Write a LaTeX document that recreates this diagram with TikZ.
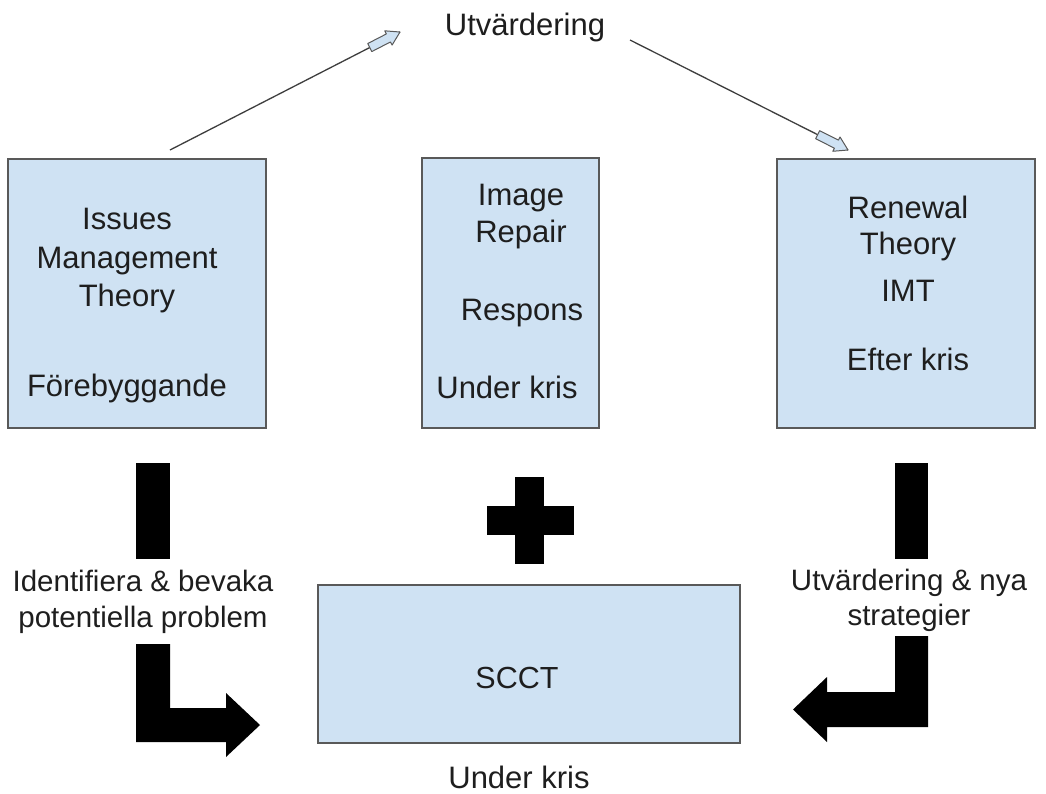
\documentclass[tikz,border=0pt]{standalone}
\usepackage{fontspec}
\setmainfont{Liberation Sans}
\definecolor{boxfill}{HTML}{CFE2F3}
\definecolor{boxline}{HTML}{595959}
\definecolor{ink}{HTML}{1E1E1E}
\begin{document}
\begin{tikzpicture}[x=1pt,y=-1pt,
  box/.style={draw=boxline, fill=boxfill, line width=1.5pt, rectangle, inner sep=0pt},
  txt/.style={anchor=base, inner sep=0pt, text=ink, font=\fontsize{31}{37}\selectfont},
  side/.style={txt, font=\fontsize{29.5}{33}\selectfont},
  thinline/.style={draw=boxline!70!black, line width=1.3pt},
  fatarrow/.style={fill=boxfill, draw=boxline, line width=1pt, line join=round},
  blk/.style={fill=black}]
\fill[white] (0,0) rectangle (1046,793);
\useasboundingbox (0,0) rectangle (1046,793);

% boxes
\node[box, minimum width=258, minimum height=269] (imt) at (137,293.5) {};
\node[box, minimum width=177, minimum height=270] (ir) at (510.5,293) {};
\node[box, minimum width=258, minimum height=269] (rt) at (906,293.5) {};
\node[box, minimum width=422, minimum height=158] (scct) at (529,664) {};

% texts in boxes
\node[txt] (l1) at (127,229) {Issues};
\node[txt] (l2) at (127,268) {Management};
\node[txt] (l3) at (127,306) {Theory};
\node[txt] (l4) at (127,396) {Förebyggande};

\node[txt] (m1) at (521,205) {Image};
\node[txt] (m2) at (521,242) {Repair};
\node[txt] (m3) at (522,320) {Respons};
\node[txt] (m4) at (507,398) {Under kris};

\node[txt] (r1) at (908,218) {Renewal};
\node[txt] (r2) at (908,254) {Theory};
\node[txt] (r3) at (908,301) {IMT};
\node[txt] (r4) at (908,370) {Efter kris};

\node[txt, font=\fontsize{30.5}{36}\selectfont] (sc) at (517,688) {SCCT};

% top and bottom labels
\node[txt] (utv) at (525,35) {Utvärdering};
\node[txt] (uk) at (519,788) {Under kris};

% side labels
\node[side] (s1) at (143,591) {Identifiera \& bevaka};
\node[side] (s2) at (143,627) {potentiella problem};
\node[side] (s3) at (909,590) {Utvärdering \& nya};
\node[side] (s4) at (909,625) {strategier};

% thin connectors with block arrow heads
\coordinate (a1s) at (170,150);
\coordinate (a1e) at (400,32);
\coordinate (a2s) at (630,40);
\coordinate (a2e) at (848,150);
\draw[thinline] (a1s) -- (a1e);
\draw[thinline] (a2s) -- (a2e);
\begin{scope}[shift={(a1e)}, rotate=27.2]
  \draw[fatarrow] (0,0) -- (-13,8) -- (-13,4.5) -- (-34,4.5) -- (-34,-4.5) -- (-13,-4.5) -- (-13,-8) -- cycle;
\end{scope}
\begin{scope}[shift={(a2e)}, rotate=-26.8]
  \draw[fatarrow] (0,0) -- (-13,8) -- (-13,4.5) -- (-34,4.5) -- (-34,-4.5) -- (-13,-4.5) -- (-13,-8) -- cycle;
\end{scope}

% black bars and bent arrows
\fill[blk] (136,463) rectangle (170,559);
\fill[blk] (136,644) -- (170,644) -- (170,708) -- (226,708) -- (226,693) -- (260,725) -- (226,757) -- (226,742) -- (136,742) -- cycle;
\fill[blk] (895,463) rectangle (928,559);
\fill[blk] (895,636) -- (928,636) -- (928,727) -- (827,727) -- (827,742) -- (793,709.5) -- (827,677) -- (827,692) -- (895,692) -- cycle;

% plus sign
\fill[blk] (487,506) rectangle (574,535);
\fill[blk] (515,477) rectangle (544,564);
\end{tikzpicture}
\end{document}
